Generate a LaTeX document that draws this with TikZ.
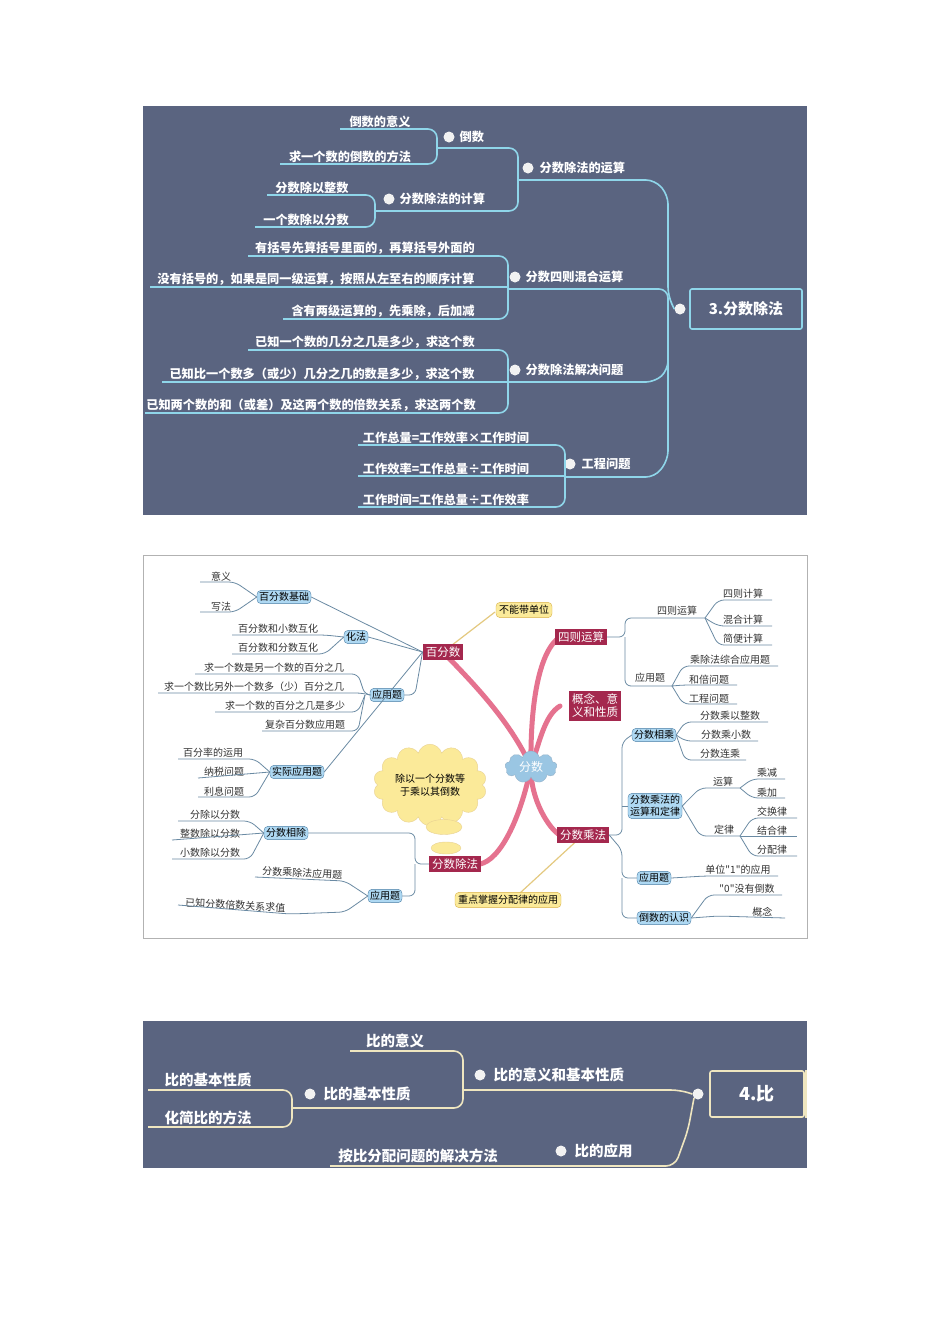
\documentclass[tikz,border=0pt]{standalone}
\usepackage{fontspec}
\newfontfamily\cjk{Noto Sans CJK SC}
\usetikzlibrary{shapes.symbols,shapes.arrows,shapes.geometric}
\definecolor{panel}{HTML}{5A6480}
\definecolor{cyanl}{HTML}{8FD6EA}
\definecolor{creaml}{HTML}{EFE6C0}
\definecolor{crim}{HTML}{A4284E}
\definecolor{pinkb}{HTML}{E5728F}
\definecolor{bluef}{HTML}{AED8F2}
\definecolor{blueb}{HTML}{4C7FA6}
\definecolor{lineg}{HTML}{6A8AA3}
\definecolor{yel}{HTML}{FBEA99}
\definecolor{yelb}{HTML}{D9B24A}
\tikzset{
 tw/.style={font=\cjk\fontsize{12.2}{14}\selectfont\bfseries, text=white, inner sep=1.5pt},
 tleaf/.style={tw, anchor=south},
 bw/.style={font=\cjk\fontsize{14.5}{16}\selectfont\bfseries, text=white, inner sep=1.5pt},
 bleaf/.style={bw, anchor=south},
 tl/.style={cyanl, line width=1.6pt, rounded corners=9pt},
 bl/.style={creaml, line width=1.6pt, rounded corners=9pt},
 wdot/.style={circle, fill=white!90!gray, minimum size=11pt, inner sep=0pt},
 ml/.style={font=\cjk\fontsize{10}{12}\selectfont, text=black!80, inner sep=1pt, anchor=south},
 mline/.style={lineg, line width=0.8pt, rounded corners=6pt},
 bnode/.style={font=\cjk\fontsize{10}{12}\selectfont, fill=bluef, draw=blueb, rounded corners=4pt, inner sep=2pt, align=center},
 cnode/.style={font=\cjk\fontsize{11.5}{13}\selectfont, fill=crim, text=white, inner sep=3pt, align=center},
 ynode/.style={font=\cjk\fontsize{10}{12}\selectfont, fill=yel, draw=yelb, rounded corners=4pt, inner sep=3pt},
 pk/.style={pinkb, line width=5pt, line cap=round},
}
\begin{document}
\begin{tikzpicture}[x=1pt,y=-1pt]
\useasboundingbox (0,0) rectangle (950,1344);
\fill[white] (0,0) rectangle (950,1344);
%%%%%%%%%%%%%%%% TOP PANEL
\fill[panel] (143,106) rectangle (807,515);
\node[draw=cyanl, line width=1.6pt, rounded corners=2pt, minimum width=112pt, minimum height=40pt, tw, font=\cjk\fontsize{15}{17}\selectfont\bfseries] (root3) at (746,309) {3.分数除法};
\node[wdot] (rd3) at (680,309) {};
% branch A
\node[wdot] (dA) at (528,168) {};
\node[tw, anchor=west] (A) at (538,168) {分数除法的运算};
\draw[tl] (518,180) -- (655,180) -- (668,195) -- (668,296) -- (rd3.west);
\draw[tl] (437,148) -- (518,148) -- (518,211) -- (375,211);
\node[wdot] (dA1) at (449,137) {};
\node[tw, anchor=west] (A1) at (458,137) {倒数};
\node[tleaf] (a11) at (380,129) {倒数的意义};
\node[tleaf] (a12) at (350,164) {求一个数的倒数的方法};
\draw[tl] (340,129) -- (437,129) -- (437,164) -- (280,164);
\node[wdot] (dA2) at (389,199) {};
\node[tw, anchor=west] (A2) at (398,199) {分数除法的计算};
\node[tleaf] (a21) at (312,195) {分数除以整数};
\node[tleaf] (a22) at (306,227) {一个数除以分数};
\draw[tl] (267,195) -- (375,195) -- (375,227) -- (255,227);
% branch B
\node[wdot] (dB) at (515,277) {};
\node[tw, anchor=west] (B) at (524,277) {分数四则混合运算};
\draw[tl] (508,289) -- (668,289) -- (668,309);
\node[tleaf] (b1) at (365,256) {有括号先算括号里面的，再算括号外面的};
\node[tleaf] (b2) at (316,287) {没有括号的，如果是同一级运算，按照从左至右的顺序计算};
\node[tleaf] (b3) at (383,319) {含有两级运算的，先乘除，后加减};
\draw[tl] (248,256) -- (508,256) -- (508,319) -- (283,319);
\draw[tl] (150,287) -- (508,287);
% branch C
\node[wdot] (dC) at (515,370) {};
\node[tw, anchor=west] (C) at (524,370) {分数除法解决问题};
\draw[tl] (508,382) -- (655,382) -- (668,370) -- (668,309);
\node[tleaf] (c1) at (365,350) {已知一个数的几分之几是多少，求这个数};
\node[tleaf] (c2) at (322,382) {已知比一个数多（或少）几分之几的数是多少，求这个数};
\node[tleaf] (c3) at (311,413) {已知两个数的和（或差）及这两个数的倍数关系，求这两个数};
\draw[tl] (248,350) -- (508,350) -- (508,413) -- (145,413);
\draw[tl] (162,382) -- (508,382);
% branch D
\node[wdot] (dD) at (570,464) {};
\node[tw, anchor=west] (D) at (580,464) {工程问题};
\draw[tl] (565,477) -- (655,477) -- (668,460) -- (668,309);
\node[tleaf] (d1) at (446,445) {工作总量=工作效率×工作时间};
\node[tleaf] (d2) at (446,476) {工作效率=工作总量÷工作时间};
\node[tleaf] (d3) at (446,507) {工作时间=工作总量÷工作效率};
\draw[tl] (358,445) -- (565,445) -- (565,507) -- (358,507);
\draw[tl] (358,476) -- (565,476);
%%%%%%%%%%%%%%%% MIDDLE PANEL
\draw[black!30, line width=0.8pt] (143,555) rectangle (807,938);
% pink trunk
\draw[pk] (531,767) .. controls (510,720) and (470,680) .. (443,652);
\draw[pk] (531,767) .. controls (530,700) and (540,650) .. (560,637);
\draw[pk] (531,767) .. controls (540,740) and (545,715) .. (560,706);
\draw[pk] (531,767) .. controls (530,800) and (550,830) .. (560,835);
\draw[pk] (531,767) .. controls (520,820) and (500,860) .. (480,864);
\draw[yelb!70, line width=1.2pt] (443,652) -- (495,612);
\draw[yelb!70, line width=1.2pt] (583,835) -- (520,893);
\node[cloud, cloud puffs=9, aspect=1.6, fill=bluef!80!blueb, draw=blueb!60, text=white, font=\cjk\fontsize{12}{14}\selectfont, inner sep=0pt, minimum width=52pt, minimum height=32pt] (fs) at (531,767) {分数};
\node[cnode] (bfs) at (443,652) {百分数};
\node[cnode] (szys) at (581,637) {四则运算};
\node[cnode] (gn) at (595,706) {概念、意\\义和性质};
\node[cnode] (fscf) at (583,835) {分数乘法};
\node[cnode] (fscf2) at (455,864) {分数除法};
\node[ynode] (bn) at (524,610) {不能带单位};
\node[ynode] (zd) at (508,900) {重点掌握分配律的应用};
\node[cloud, cloud puffs=14, aspect=1.6, fill=yel, draw=yelb!60, font=\cjk\fontsize{10}{13}\selectfont, align=center, inner sep=2pt] (th) at (430,785) {除以一个分数等\\于乘以其倒数};
\node[ellipse, fill=yel, draw=yelb!60, minimum width=36pt, minimum height=15pt, inner sep=0pt] (th1) at (444,827) {};
\node[ellipse, fill=yel, draw=yelb!60, minimum width=30pt, minimum height=12pt, inner sep=0pt] (th2) at (446,848) {};
% left blue nodes
\node[bnode] (bjc) at (284,597) {百分数基础};
\node[bnode] (hf) at (356,637) {化法};
\node[bnode] (yy1) at (387,695) {应用题};
\node[bnode] (sj) at (297,772) {实际应用题};
\node[bnode] (fsx) at (286,833) {分数相除};
\node[bnode] (yy2) at (385,896) {应用题};
\draw[mline] (bjc.east) -- (bfs.west);
\draw[mline] (hf.east) -- (bfs.west);
\draw[mline] (yy1.east) -- (415,695) -- (bfs.west);
\draw[mline] (sj.east) -- (bfs.west);
\draw[mline] (fsx.east) -- (415,833) -- (415,864) -- (fscf2.west);
\draw[mline] (yy2.east) -- (415,896) -- (415,864);
% left leaves
\node[ml] (l1) at (221,582) {意义};
\node[ml] (l2) at (221,612) {写法};
\draw[mline] (200,582) -- (235,582) -- (bjc.west); \draw[mline] (200,612) -- (235,612) -- (bjc.west);
\node[ml] (l3) at (278,635) {百分数和小数互化};
\node[ml] (l4) at (278,654) {百分数和分数互化};
\draw[mline] (232,635) -- (325,635) -- (hf.west); \draw[mline] (232,654) -- (325,654) -- (hf.west);
\node[ml] (l5) at (274,674) {求一个数是另一个数的百分之几};
\node[ml] (l6) at (254,693) {求一个数比另外一个数多（少）百分之几};
\node[ml] (l7) at (285,712) {求一个数的百分之几是多少};
\node[ml] (l8) at (305,731) {复杂百分数应用题};
\draw[mline] (195,674) -- (358,674) -- (365,695) -- (yy1.west);
\draw[mline] (158,693) -- (362,693) -- (yy1.west);
\draw[mline] (215,712) -- (358,712) -- (365,695);
\draw[mline] (262,731) -- (358,731) -- (365,695);
\node[ml] (l9) at (213,759) {百分率的运用};
\node[ml] (l10) at (224,778) {纳税问题};
\node[ml] (l11) at (224,797) {利息问题};
\draw[mline] (178,759) -- (255,759) -- (sj.west); \draw[mline] (198,778) -- (sj.west); \draw[mline] (198,797) -- (255,797) -- (sj.west);
\node[ml] (l12) at (215,821) {分除以分数};
\node[ml] (l13) at (210,840) {整数除以分数};
\node[ml] (l14) at (210,859) {小数除以分数};
\draw[mline] (178,821) -- (250,821) -- (fsx.west); \draw[mline] (172,840) -- (fsx.west); \draw[mline] (172,859) -- (250,859) -- (fsx.west);
\node[ml, rotate=-3] (l15) at (302,879) {分数乘除法应用题};
\node[ml, rotate=-3] (l16) at (235,911) {已知分数倍数关系求值};
\draw[mline] (255,877) -- (345,881) -- (yy2.west); \draw[mline] (178,905) -- (290,914) -- (345,912) -- (yy2.west);
% right nodes
\node[ml, anchor=center] (rsz) at (677,611) {四则运算};
\node[ml, anchor=center] (ryy) at (650,678) {应用题};
\draw[mline] (szys.east) -- (625,637) -- (625,618) -- (705,618);
\draw[mline] (625,637) -- (625,686) -- (672,686);
\node[bnode] (fsxc) at (654,735) {分数相乘};
\node[bnode] (fsyd) at (655,806) {分数乘法的\\运算和定律};
\node[bnode] (ryy2) at (654,878) {应用题};
\node[bnode] (dsrs) at (664,918) {倒数的认识};
\draw[mline] (fscf.east) -- (622,835) -- (622,742) -- (fsxc.west);
\draw[mline] (622,806) -- (fsyd.west);
\draw[mline] (fscf.east) -- (622,850) -- (622,878) -- (ryy2.west);
\draw[mline] (622,878) -- (622,918) -- (dsrs.west);
\node[ml] (r1) at (743,600) {四则计算};
\node[ml] (r2) at (743,626) {混合计算};
\node[ml] (r3) at (743,645) {简便计算};
\draw[mline] (705,618) -- (718,600) -- (772,600); \draw[mline] (705,618) -- (718,626) -- (772,626); \draw[mline] (705,618) -- (718,645) -- (772,645);
\node[ml] (r4) at (730,666) {乘除法综合应用题};
\node[ml] (r5) at (709,685) {和倍问题};
\node[ml] (r6) at (709,704) {工程问题};
\draw[mline] (672,686) -- (683,666) -- (778,666); \draw[mline] (672,686) -- (683,685) -- (737,685); \draw[mline] (672,686) -- (683,704) -- (737,704);
\node[ml] (r7) at (730,722) {分数乘以整数};
\node[ml] (r8) at (726,741) {分数乘小数};
\node[ml] (r9) at (720,760) {分数连乘};
\draw[mline] (fsxc.east) -- (685,722) -- (768,722); \draw[mline] (fsxc.east) -- (685,741) -- (758,741); \draw[mline] (fsxc.east) -- (685,760) -- (746,760);
\node[ml] (ys) at (723,788) {运算};
\node[ml] (dl) at (724,836) {定律};
\draw[mline] (fsyd.east) -- (700,788) -- (740,788); \draw[mline] (fsyd.east) -- (700,836) -- (740,836);
\node[ml] (r10) at (767,779) {乘减};
\node[ml] (r11) at (767,798) {乘加};
\draw[mline] (740,788) -- (752,779) -- (785,779); \draw[mline] (740,788) -- (752,798) -- (785,798);
\node[ml] (r12) at (772,818) {交换律};
\node[ml] (r13) at (772,836) {结合律};
\node[ml] (r14) at (772,856) {分配律};
\draw[mline] (740,836) -- (752,818) -- (797,818); \draw[mline] (740,836) -- (797,836); \draw[mline] (740,836) -- (752,856) -- (797,856);
\node[ml] (r15) at (738,876) {单位"1"的应用};
\draw[mline] (ryy2.east) -- (705,876) -- (778,876);
\node[ml] (r16) at (747,895) {"0"没有倒数};
\node[ml, rotate=-5] (r17) at (762,918) {概念};
\draw[mline] (dsrs.east) -- (708,895) -- (782,895); \draw[mline] (dsrs.east) -- (718,916) -- (785,918);
%%%%%%%%%%%%%%%% BOTTOM PANEL
\fill[panel] (143,1021) rectangle (807,1168);
\node[draw=creaml, line width=1.6pt, rounded corners=2pt, minimum width=94pt, minimum height=46pt, bw, font=\cjk\fontsize{18}{20}\selectfont\bfseries] (root4) at (757,1094) {4.比};
\node[wdot] (rd4) at (698,1094) {};
\draw[bl] (806,1070) -- (806,1118);
\node[wdot] (e1d) at (480,1075) {};
\node[bw, anchor=west] (e1) at (492,1075) {比的意义和基本性质};
\draw[bl] (463,1090) -- (680,1090) -- (rd4.west);
\node[bleaf] (e11) at (395,1050) {比的意义};
\draw[bl] (350,1051) -- (463,1051) -- (463,1108) -- (292,1108);
\node[wdot] (e2d) at (310,1094) {};
\node[bw, anchor=west] (e2) at (322,1094) {比的基本性质};
\node[bleaf] (e21) at (208,1089) {比的基本性质};
\node[bleaf] (e22) at (208,1127) {化简比的方法};
\draw[bl] (148,1090) -- (292,1090) -- (292,1127) -- (148,1127);
\node[wdot] (e3d) at (561,1151) {};
\node[bw, anchor=west] (e3) at (573,1151) {比的应用};
\node[bleaf] (e31) at (418,1165) {按比分配问题的解决方法};
\draw[bl] (330,1166) -- (675,1166) -- (688,1130) -- (rd4.south west);
\end{tikzpicture}
\end{document}
